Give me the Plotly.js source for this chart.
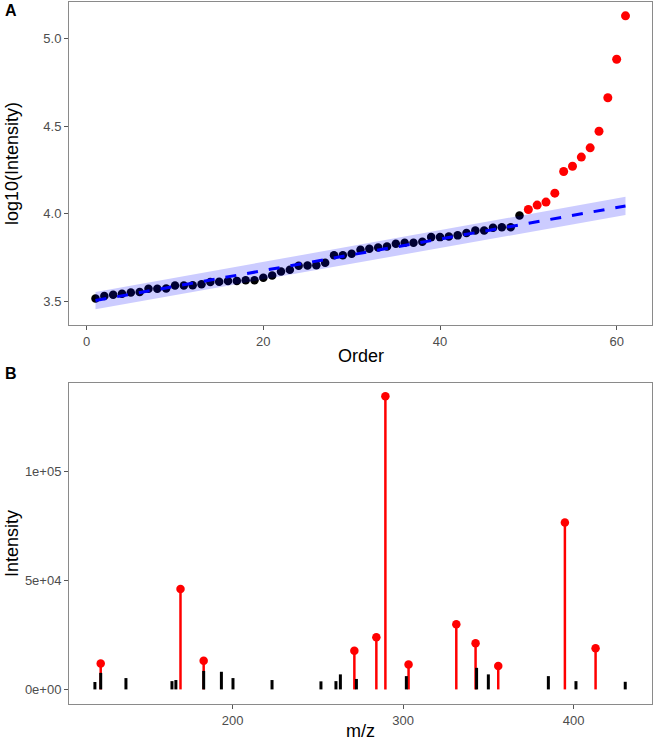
<!DOCTYPE html>
<html>
<head>
<meta charset="utf-8">
<script src="https://cdn.plot.ly/plotly-3.0.1.min.js"></script>
<style>
  html, body { margin: 0; padding: 0; background: #ffffff; }
  #chart { width: 653px; height: 743px; }
</style>
</head>
<body>
<div id="chart"></div>
<script>
// Panel A: log10 intensity of each fragment, ranked by order
const logIntensity = [
  3.516, 3.530, 3.538, 3.544, 3.550, 3.553, 3.572, 3.572, 3.574, 3.591,
  3.591, 3.592, 3.598, 3.611, 3.612, 3.616, 3.617, 3.620, 3.620, 3.635,
  3.648, 3.671, 3.681, 3.704, 3.705, 3.707, 3.721, 3.764, 3.764, 3.772,
  3.795, 3.801, 3.808, 3.814, 3.829, 3.835, 3.835, 3.841, 3.867, 3.867,
  3.871, 3.877, 3.890, 3.905, 3.905, 3.921, 3.924, 3.924, 3.991,
  4.025, 4.050, 4.067, 4.118, 4.242, 4.272, 4.324, 4.377, 4.472, 4.663,
  4.883, 5.131
];
// ranks from this one on are flagged as outliers (red)
const firstOutlierOrder = 50;

// linear fit over the ranks with its band
const fitOrder = [1, 61];
const fitLog = [3.505, 4.045];
const fitLower = [3.455, 3.993];
const fitUpper = [3.553, 4.097];

// Panel B: spectrum sticks
const bgMz = [119.2, 122.6, 137.4, 164.4, 166.7, 183.0, 193.4, 200.2, 223.1, 251.8,
              260.6, 263.2, 272.6, 301.9, 343.1, 350.0, 385.2, 401.4, 430.3];
const bgIntensity = [3400, 7600, 5200, 3800, 4300, 8500, 8100, 5200, 4300, 3700,
                     3800, 6900, 4800, 6100, 9900, 6900, 6100, 3800, 3500];
const peakMz = [122.6, 169.4, 183.0, 271.4, 284.3, 289.6, 303.2, 331.2, 342.5, 355.8, 394.9, 412.9];
const peakIntensity = [11900, 46100, 13200, 17800, 23900, 134600, 11400, 29900, 21200, 10800, 76600, 18900];

const orderAll = logIntensity.map((_, i) => i + 1);
const normOrder = [], normLog = [], outOrder = [], outLog = [];
orderAll.forEach((o, i) => {
  if (o < firstOutlierOrder) { normOrder.push(o); normLog.push(logIntensity[i]); }
  else { outOrder.push(o); outLog.push(logIntensity[i]); }
});

function sticks(mz, inten) {
  const xs = [], ys = [];
  mz.forEach((m, i) => { xs.push(m, m, null); ys.push(0, inten[i], null); });
  return { xs, ys };
}
const bgSticks = sticks(bgMz, bgIntensity);
const peakSticks = sticks(peakMz, peakIntensity);

const bandX = fitOrder.concat(fitOrder.slice().reverse());
const bandY = fitLower.concat(fitUpper.slice().reverse());

const traces = [
  { x: normOrder, y: normLog, type: 'scatter', mode: 'markers', xaxis: 'x', yaxis: 'y',
    marker: { color: '#000000', size: 8.5 } },
  { x: outOrder, y: outLog, type: 'scatter', mode: 'markers', xaxis: 'x', yaxis: 'y',
    marker: { color: '#FF0000', size: 9 } },
  { x: bandX, y: bandY, type: 'scatter', mode: 'lines', fill: 'toself', xaxis: 'x', yaxis: 'y',
    fillcolor: 'rgba(0,0,255,0.2)', line: { width: 0 }, hoverinfo: 'skip' },
  { x: fitOrder, y: fitLog, type: 'scatter', mode: 'lines', xaxis: 'x', yaxis: 'y',
    line: { color: '#0000FF', width: 3, dash: '11px,11px' } },

  { x: peakSticks.xs, y: peakSticks.ys, type: 'scatter', mode: 'lines', xaxis: 'x2', yaxis: 'y2',
    line: { color: '#FF0000', width: 2.5 }, connectgaps: false },
  { x: peakMz, y: peakIntensity, type: 'scatter', mode: 'markers', xaxis: 'x2', yaxis: 'y2',
    marker: { color: '#FF0000', size: 8.5 } },
  { x: bgSticks.xs, y: bgSticks.ys, type: 'scatter', mode: 'lines', xaxis: 'x2', yaxis: 'y2',
    line: { color: '#000000', width: 3 }, connectgaps: false }
];

const W = 653, H = 743;
const px = v => v / W;
const py = v => 1 - v / H;

const tickFont = { family: 'Liberation Sans, Arial, sans-serif', size: 13, color: '#4D4D4D' };
const titleFont = { family: 'Liberation Sans, Arial, sans-serif', size: 18, color: '#000000' };
const axisCommon = {
  showgrid: false, zeroline: false, showline: true, mirror: true,
  linecolor: '#8a8a8a', linewidth: 1, ticks: 'outside', ticklen: 4,
  tickcolor: '#555555', tickwidth: 1, tickfont: tickFont, fixedrange: true
};

const layout = {
  width: W, height: H,
  margin: { l: 0, r: 0, t: 0, b: 0 },
  paper_bgcolor: '#ffffff', plot_bgcolor: '#ffffff',
  showlegend: false,
  xaxis: Object.assign({}, axisCommon, {
    domain: [px(69), px(652)], anchor: 'y', range: [-2, 64],
    tickvals: [0, 20, 40, 60]
  }),
  yaxis: Object.assign({}, axisCommon, {
    domain: [py(325), py(2)], anchor: 'x', range: [3.365, 5.21],
    tickvals: [3.5, 4.0, 4.5, 5.0], ticktext: ['3.5', '4.0', '4.5', '5.0']
  }),
  xaxis2: Object.assign({}, axisCommon, {
    domain: [px(69), px(652)], anchor: 'y2', range: [104, 446],
    tickvals: [200, 300, 400]
  }),
  yaxis2: Object.assign({}, axisCommon, {
    domain: [py(704), py(383)], anchor: 'x2', range: [-6700, 140700],
    tickvals: [0, 50000, 100000], ticktext: ['0e+00', '5e+04', '1e+05']
  }),
  annotations: [
    { text: '<b>A</b>', xref: 'paper', yref: 'paper', x: px(3), y: py(10),
      xanchor: 'left', yanchor: 'middle', showarrow: false,
      font: { family: 'Liberation Sans, Arial, sans-serif', size: 16, color: '#000' } },
    { text: '<b>B</b>', xref: 'paper', yref: 'paper', x: px(3), y: py(373),
      xanchor: 'left', yanchor: 'middle', showarrow: false,
      font: { family: 'Liberation Sans, Arial, sans-serif', size: 16, color: '#000' } },
    { text: 'Order', xref: 'paper', yref: 'paper', x: px(360.5), y: py(356),
      xanchor: 'center', yanchor: 'middle', showarrow: false, font: titleFont },
    { text: 'm/z', xref: 'paper', yref: 'paper', x: px(360.5), y: py(731),
      xanchor: 'center', yanchor: 'middle', showarrow: false, font: titleFont },
    { text: 'log10(Intensity)', xref: 'paper', yref: 'paper', x: px(12), y: py(164),
      xanchor: 'center', yanchor: 'middle', textangle: -90, showarrow: false, font: titleFont },
    { text: 'Intensity', xref: 'paper', yref: 'paper', x: px(12), y: py(544),
      xanchor: 'center', yanchor: 'middle', textangle: -90, showarrow: false, font: titleFont }
  ]
};

Plotly.newPlot('chart', traces, layout, { staticPlot: true, displayModeBar: false });
</script>
</body>
</html>
